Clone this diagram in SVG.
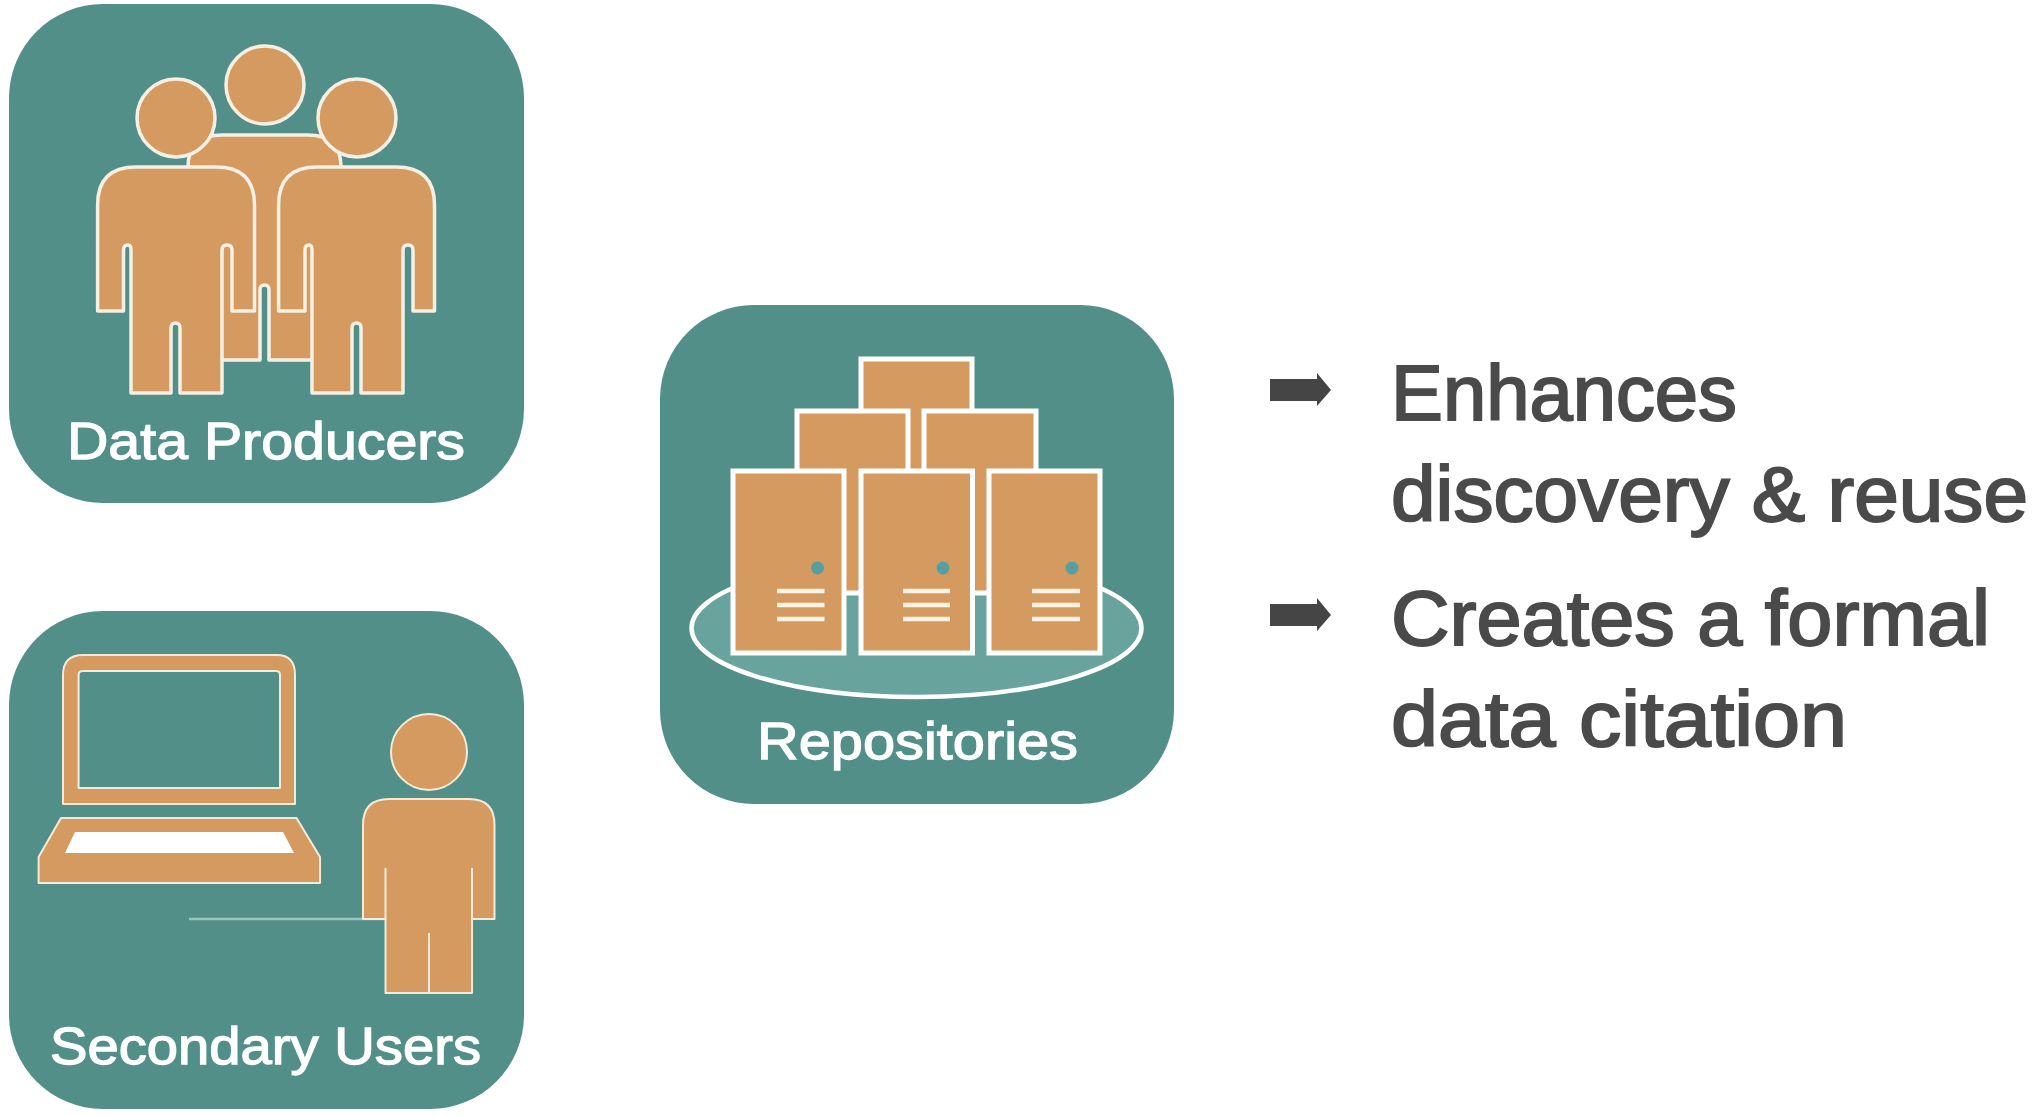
<svg xmlns="http://www.w3.org/2000/svg" width="2032" height="1116" viewBox="0 0 2032 1116">
<style>
.panel{fill:#528f89}
.o{fill:#d59a60;stroke:#f5efe4;stroke-width:3.5;stroke-linejoin:round}
.t{fill:#d59a60;stroke:#f3ead9;stroke-width:2;stroke-linejoin:round}
.b{fill:#d59a60;stroke:#fff;stroke-width:5}
.lab{font-family:"Liberation Sans",Arial,sans-serif;font-size:52px;fill:#fff;stroke:#fff;stroke-width:1.3}
.body{font-family:"Liberation Sans",Arial,sans-serif;font-size:78px;fill:#4a4a4a;stroke:#4a4a4a;stroke-width:2}
.rule{stroke:#fbf3e6;stroke-width:4.5;fill:none}
.dot{fill:#55a09e}
</style>
<defs>
<path id="arrow" d="M1270 379H1317V373L1331 390L1317 406V401H1270Z" fill="#454545"/>
</defs>
<rect width="2032" height="1116" fill="#fff"/>
<g id="data-producers">
<rect class="panel" x="9" y="4" width="515" height="499" rx="94"/>
<path class="o" d="M188 167Q188 135 222 135H308Q341 135 341 167V360H269V290Q269 285 264.500 285Q260 285 260 290V360H188Z"/>
<circle class="o" cx="265" cy="85" r="39"/>
<path class="o" d="M97.600 205Q97.600 167 136 167H216Q254.500 167 254.500 205V311H232V250Q232 245 227 245Q222 245 222 250V393H180V328Q180 323 175.500 323Q171 323 171 328V393H131V250Q131 245 128 245Q123.500 245 123.500 250V311H97.600Z"/>
<circle class="o" cx="176" cy="118" r="39"/>
<path class="o" d="M278.600 205Q278.600 167 317 167H396Q434.500 167 434.500 205V311H413V250Q413 245 408 245Q403 245 403 250V393H361V328Q361 323 356.500 323Q352 323 352 328V393H312V250Q312 245 309 245Q305 245 305 250V311H278.600Z"/>
<circle class="o" cx="357" cy="118" r="39"/>
<text class="lab" x="67" y="459" textLength="398" lengthAdjust="spacingAndGlyphs">Data Producers</text>
</g>
<g id="secondary-users">
<rect class="panel" x="9" y="611" width="515" height="498" rx="94"/>
<path class="t" fill-rule="evenodd" d="M63 804V675Q63 655 83 655H277Q295 655 295 675V804ZM78.600 788H280V675Q280 671 276 671H83Q78.600 671 78.600 675Z"/>
<path class="t" d="M61 818H296.500L320 857V883H38.600V857Z"/>
<path d="M75 832H283L294 853H65Z" fill="#fff"/>
<circle class="t" cx="429" cy="752" r="38"/>
<line x1="189" y1="919" x2="385" y2="919" stroke="#9cc3bd" stroke-width="2.500"/>
<path class="t" d="M363 825Q363 799 389 799H469Q494.500 799 494.500 825V919H472V993H385.500V919H363Z"/>
<path d="M385.500 868V919M472 868V919M429 933V993" fill="none" stroke="#f3ead9" stroke-width="2"/>
<text class="lab" x="50" y="1064" textLength="431" lengthAdjust="spacingAndGlyphs">Secondary Users</text>
</g>
<g id="repositories">
<rect class="panel" x="660" y="305" width="514" height="499" rx="94"/>
<ellipse cx="916.500" cy="628" rx="225" ry="69" fill="#69a39e" stroke="#fff" stroke-width="4.500"/>
<rect class="b" x="861" y="359" width="111" height="120"/>
<rect class="b" x="797" y="411" width="111" height="182"/>
<rect class="b" x="924" y="411" width="112" height="182"/>
<rect class="b" x="733" y="471" width="111" height="182"/>
<rect class="b" x="861" y="471" width="111.500" height="182"/>
<rect class="b" x="989" y="471" width="111" height="182"/>
<circle class="dot" cx="817.500" cy="568" r="6.500"/>
<circle class="dot" cx="943" cy="568" r="6.500"/>
<circle class="dot" cx="1072" cy="568" r="6.500"/>
<path class="rule" d="M777 591H824.500M777 605H824.500M777 619H824.500M903 591H950M903 605H950M903 619H950M1032 591H1080M1032 605H1080M1032 619H1080"/>
<text class="lab" x="757" y="759" textLength="321" lengthAdjust="spacingAndGlyphs">Repositories</text>
</g>
<g id="benefit-1">
<use href="#arrow"/>
<text class="body" x="1391" y="420" textLength="346" lengthAdjust="spacingAndGlyphs">Enhances</text>
<text class="body" x="1391" y="521" textLength="637" lengthAdjust="spacingAndGlyphs">discovery &amp; reuse</text>
</g>
<g id="benefit-2">
<use href="#arrow" y="225"/>
<text class="body" x="1391" y="645" textLength="599" lengthAdjust="spacingAndGlyphs">Creates a formal</text>
<text class="body" x="1391" y="746" textLength="456" lengthAdjust="spacingAndGlyphs">data citation</text>
</g>
<g id="connectors"/>
</svg>
